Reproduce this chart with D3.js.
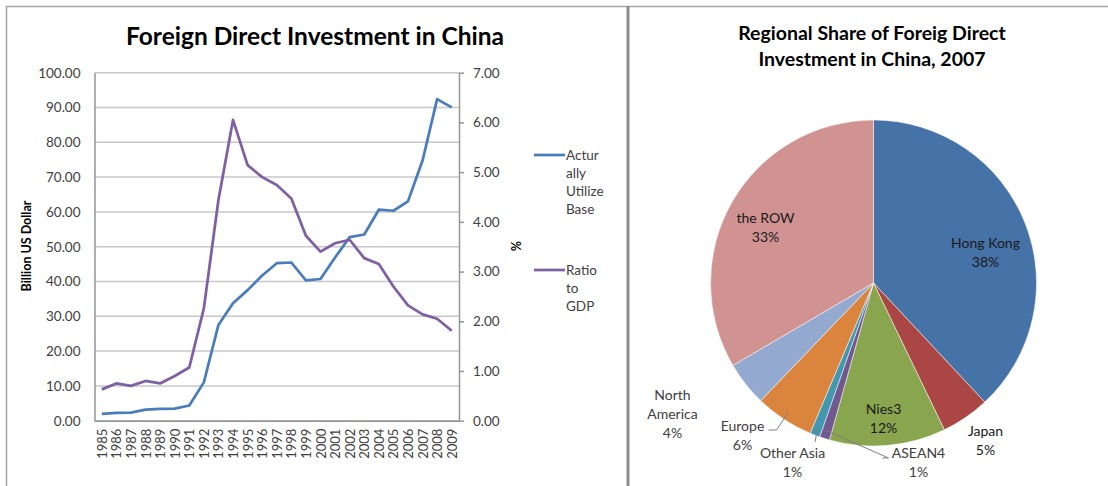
<!DOCTYPE html>
<html>
<head>
<meta charset="utf-8">
<script src="https://cdn.jsdelivr.net/npm/d3@7"></script>
<style>
  html, body { margin: 0; padding: 0; background: #fff; }
  svg { display: block; font-family: Lato, "Open Sans", sans-serif; }
</style>
</head>
<body>
<svg id="chart" width="1108" height="486"></svg>
<script>
// Line chart data
const years = ['1985','1986','1987','1988','1989','1990','1991','1992','1993','1994','1995','1996','1997',
  '1998','1999','2000','2001','2002','2003','2004','2005','2006','2007','2008','2009'];
const fdiBillion = [1.96, 2.24, 2.31, 3.19, 3.39, 3.49, 4.37, 11.01, 27.52, 33.77, 37.52, 41.73, 45.26,
  45.46, 40.32, 40.72, 46.88, 52.74, 53.51, 60.63, 60.33, 63.02, 74.77, 92.40, 90.03];
const ratioGdp = [0.63, 0.75, 0.70, 0.80, 0.75, 0.90, 1.07, 2.26, 4.44, 6.05, 5.14, 4.90, 4.74,
  4.47, 3.72, 3.40, 3.57, 3.64, 3.27, 3.15, 2.70, 2.32, 2.14, 2.05, 1.81];
const leftTicks = [0, 10, 20, 30, 40, 50, 60, 70, 80, 90, 100];
const rightTicks = [0, 1, 2, 3, 4, 5, 6, 7];

// Pie data (share, %)
const regions = ['Hong Kong', 'Japan', 'Nies3', 'ASEAN4', 'Other Asia', 'Europe', 'North America', 'the ROW'];
const shares = [38.0, 4.8, 11.5, 1.0, 1.0, 5.8, 4.4, 33.4];
const pieColors = ['#4572A7', '#AA4643', '#89A54E', '#71588F', '#4198AF', '#DB843D', '#93A9CF', '#D19392'];

(function() {
  'use strict';

  const svg = d3.select('#chart');
  const textColor = '#404040';

  // Frame
  svg.append('line').attr('x1', 6).attr('x2', 1108).attr('y1', 6.5).attr('y2', 6.5)
    .attr('stroke', '#a6a6a6').attr('stroke-width', 1.5);
  svg.append('line').attr('x1', 6.5).attr('x2', 6.5).attr('y1', 6).attr('y2', 486)
    .attr('stroke', '#a6a6a6').attr('stroke-width', 1.5);
  svg.append('line').attr('x1', 628).attr('x2', 628).attr('y1', 6).attr('y2', 486)
    .attr('stroke', '#8c8c8c').attr('stroke-width', 3);

  // ---- Line chart ----
  const plot = { left: 94.5, right: 459, top: 72.7, bottom: 420.7 };

  const x = d3.scalePoint().domain(years).range([plot.left, plot.right]).padding(0.5);
  const yL = d3.scaleLinear().domain([0, 100]).range([plot.bottom, plot.top]);
  const yR = d3.scaleLinear().domain([0, 7]).range([plot.bottom, plot.top]);

  svg.append('text')
    .attr('x', 315).attr('y', 45)
    .attr('text-anchor', 'middle')
    .attr('font-size', 24.5).attr('font-weight', 'bold').attr('fill', '#000')
    .text('Foreign Direct Investment in China');

  // Gridlines
  svg.append('g')
    .selectAll('line')
    .data(leftTicks)
    .enter()
    .append('line')
    .attr('x1', plot.left).attr('x2', plot.right)
    .attr('y1', d => yL(d)).attr('y2', d => yL(d))
    .attr('stroke', '#c8c8c8').attr('stroke-width', 1.5);

  // Left axis
  const leftAxis = svg.append('g')
    .attr('transform', `translate(${plot.left},0)`)
    .call(d3.axisLeft(yL).tickValues(leftTicks).tickFormat(d3.format('.2f')).tickSize(0).tickPadding(14));
  leftAxis.select('.domain').attr('stroke', '#969696').attr('stroke-width', 1.5);
  leftAxis.selectAll('text').attr('font-size', 13.5).attr('fill', textColor)
    .attr('font-family', 'Lato, "Open Sans", sans-serif');

  // Right axis
  const rightAxis = svg.append('g')
    .attr('transform', `translate(${plot.right},0)`)
    .call(d3.axisRight(yR).tickValues(rightTicks).tickFormat(d3.format('.2f')).tickSize(5).tickSizeOuter(0).tickPadding(9));
  rightAxis.select('.domain').attr('stroke', '#969696').attr('stroke-width', 1.5);
  rightAxis.selectAll('line').attr('stroke', '#969696').attr('stroke-width', 1.5);
  rightAxis.selectAll('text').attr('font-size', 13.5).attr('fill', textColor)
    .attr('font-family', 'Lato, "Open Sans", sans-serif');

  // Bottom axis
  const bottomAxis = svg.append('g')
    .attr('transform', `translate(0,${plot.bottom})`)
    .call(d3.axisBottom(x).tickSize(0).tickPadding(0));
  bottomAxis.select('.domain').attr('stroke', '#969696').attr('stroke-width', 1.5);
  bottomAxis.selectAll('text')
    .attr('font-size', 13).attr('fill', textColor)
    .attr('font-family', 'Lato, "Open Sans", sans-serif')
    .attr('text-anchor', 'end')
    .attr('dy', '0.35em')
    .attr('transform', 'translate(0,8) rotate(-90)');

  // Axis titles
  svg.append('text')
    .attr('transform', 'translate(31,246) rotate(-90)')
    .attr('text-anchor', 'middle')
    .attr('font-size', 12.5).attr('font-weight', 'bold').attr('fill', '#000')
    .text('Billion US Dollar');
  svg.append('text')
    .attr('transform', 'translate(521,246) rotate(-90)')
    .attr('text-anchor', 'middle')
    .attr('font-size', 12.5).attr('font-weight', 'bold').attr('fill', '#000')
    .text('%');

  // Lines
  const blue = '#4a7ebb';
  const purple = '#7e60a3';
  const lineL = d3.line().x((d, i) => x(years[i])).y(d => yL(d));
  const lineR = d3.line().x((d, i) => x(years[i])).y(d => yR(d));

  svg.append('path').datum(fdiBillion)
    .attr('d', lineL).attr('fill', 'none').attr('stroke', blue)
    .attr('stroke-width', 2.75).attr('stroke-linejoin', 'round');
  svg.append('path').datum(ratioGdp)
    .attr('d', lineR).attr('fill', 'none').attr('stroke', purple)
    .attr('stroke-width', 2.75).attr('stroke-linejoin', 'round');

  // Legend
  const legend = [
    { color: blue, lines: ['Actur', 'ally', 'Utilize', 'Base'], y: 155 },
    { color: purple, lines: ['Ratio', 'to', 'GDP'], y: 270 }
  ];
  legend.forEach(item => {
    svg.append('line')
      .attr('x1', 534).attr('x2', 565).attr('y1', item.y).attr('y2', item.y)
      .attr('stroke', item.color).attr('stroke-width', 2.75);
    const t = svg.append('text')
      .attr('x', 566).attr('y', item.y)
      .attr('font-size', 13.5).attr('fill', textColor);
    item.lines.forEach((s, i) => {
      t.append('tspan').attr('x', 566).attr('y', item.y + i * 18.2).attr('dy', '0.35em').text(s);
    });
  });

  // ---- Pie chart ----
  const cx = 873.5, cy = 283, r = 163;

  const pieTitle = svg.append('text')
    .attr('text-anchor', 'middle')
    .attr('font-size', 19.5).attr('font-weight', 'bold').attr('fill', '#000');
  pieTitle.append('tspan').attr('x', 872).attr('y', 40).text('Regional Share of Foreig Direct');
  pieTitle.append('tspan').attr('x', 872).attr('y', 66).text('Investment in China, 2007');

  const pieData = d3.pie().sort(null).value(d => d)(shares);
  const arc = d3.arc().innerRadius(0).outerRadius(r);

  const g = svg.append('g').attr('transform', `translate(${cx},${cy})`);
  g.selectAll('path')
    .data(pieData)
    .enter()
    .append('path')
    .attr('d', arc)
    .attr('fill', (d, i) => pieColors[i])
    .attr('stroke', '#fff').attr('stroke-width', 0.5);

  // Label positions relative to pie centre
  const labelPos = [
    [112, -40], [112, 148], [10, 126], [45, 170], [-81, 170], [-131, 143], [-201, 112], [-108, -65]
  ];
  const labelLines = [
    ['Hong Kong'], ['Japan'], ['Nies3'], ['ASEAN4'], ['Other Asia'], ['Europe'], ['North', 'America'], ['the ROW']
  ];
  pieData.forEach((d, i) => {
    const [lx, ly] = labelPos[i];
    const t = g.append('text')
      .attr('text-anchor', 'middle')
      .attr('font-size', 14)
      .attr('fill', i < 3 || i === 7 ? '#1a1a1a' : textColor);
    const rows = labelLines[i].concat([Math.round(d.data) + '%']);
    rows.forEach((s, k) => {
      t.append('tspan').attr('x', lx).attr('y', ly + k * 19).attr('dy', '0.35em').text(s);
    });
  });

  // Leader lines
  const leader = d3.line();
  const leaders = [
    { slice: 3, pts: [[15, 175], [9, 175]] },
    { slice: 4, pts: [[-58.5, 159]] },
    { slice: 5, pts: [[-97, 147], [-105, 147]] }
  ];
  leaders.forEach(l => {
    const c = d3.arc().innerRadius(r - 8).outerRadius(r - 8).centroid(pieData[l.slice]);
    g.append('path')
      .attr('d', leader([c].concat(l.pts)))
      .attr('fill', 'none').attr('stroke', '#808080').attr('stroke-width', 1);
  });
})();
</script>
</body>
</html>
